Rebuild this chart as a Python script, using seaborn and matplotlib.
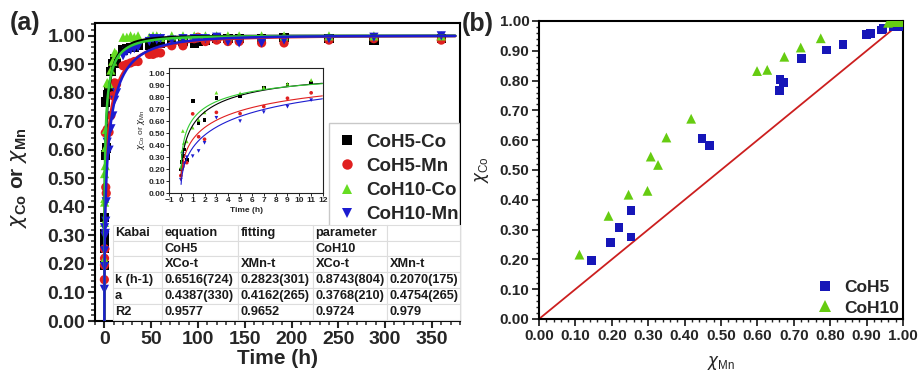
import numpy as np
import pandas as pd
import matplotlib
matplotlib.use("Agg")
import matplotlib.pyplot as plt
import seaborn as sns
from matplotlib.ticker import MultipleLocator, FormatStrFormatter

# ---------------- data ----------------
# early time points (h), shown in main panel and inset
t_short = [0, 0.083, 0.167, 0.25, 0.5, 1, 1.5, 2, 3, 5, 7, 9, 11]
coh5_co_short = [0.196, 0.256, 0.307, 0.363, 0.275, 0.768, 0.582, 0.607, 0.794, 0.804, 0.875, 0.903, 0.920]
coh5_mn_short = [0.145, 0.196, 0.220, 0.253, 0.253, 0.660, 0.469, 0.448, 0.672, 0.662, 0.721, 0.790, 0.835]
coh10_co_short = [0.216, 0.346, 0.517, 0.417, 0.430, 0.545, 0.609, 0.672, 0.836, 0.832, 0.880, 0.911, 0.942]
coh10_mn_short = [0.111, 0.191, 0.327, 0.246, 0.298, 0.307, 0.350, 0.418, 0.627, 0.599, 0.674, 0.719, 0.774]

# later time points (h)
t_long = [13, 20, 24, 28, 32, 36, 48, 52, 56, 60, 72, 84, 96, 100, 108, 120, 132, 144, 168, 192, 240, 288, 360]
coh5_co_long = [0.905, 0.950, 0.955, 0.960, 0.960, 0.965, 0.965, 0.970, 0.975, 0.975, 0.980, 0.980, 0.975,
                0.980, 0.985, 0.990, 0.990, 0.990, 0.990, 0.995, 0.990, 0.985, 0.990]
coh5_mn_long = [0.830, 0.895, 0.900, 0.905, 0.910, 0.910, 0.935, 0.935, 0.940, 0.940, 0.965, 0.965, 0.990,
                0.995, 0.980, 0.985, 0.980, 0.980, 0.975, 0.975, 0.985, 0.990, 0.985]
coh10_co_long = [0.935, 0.995, 0.995, 1.000, 0.995, 1.000, 0.995, 1.000, 1.000, 0.995, 1.000, 1.000, 1.000,
                 0.995, 1.000, 1.000, 1.000, 1.000, 1.000, 1.000, 1.000, 1.000, 1.000]
coh10_mn_long = [0.800, 0.930, 0.945, 0.950, 0.955, 0.960, 0.980, 0.990, 0.985, 0.990, 0.985, 0.990, 0.990,
                 0.990, 0.990, 0.995, 0.980, 0.975, 0.975, 0.985, 0.990, 0.995, 1.000]

series_names = ["CoH5-Co", "CoH5-Mn", "CoH10-Co", "CoH10-Mn"]

# Kabai fitting parameters (table)
k_vals = [0.6516, 0.2823, 0.8743, 0.2070]
k_errs = ["724", "301", "804", "175"]
a_vals = [0.4387, 0.4162, 0.3768, 0.4754]
a_errs = ["330", "265", "210", "265"]
r2_vals = ["0.9577", "0.9652", "0.9724", "0.979"]

# panel (b): chi_Co vs chi_Mn
b_coh5_mn = [0.145, 0.196, 0.220, 0.253, 0.253, 0.448, 0.469, 0.660, 0.662, 0.672, 0.721, 0.790, 0.835,
             0.899, 0.910, 0.941, 0.945, 0.973, 0.991]
b_coh5_co = [0.196, 0.256, 0.307, 0.363, 0.275, 0.607, 0.582, 0.768, 0.804, 0.794, 0.875, 0.903, 0.920,
             0.956, 0.959, 0.970, 0.975, 0.981, 0.981]
b_coh10_mn = [0.111, 0.191, 0.246, 0.298, 0.307, 0.327, 0.350, 0.418, 0.599, 0.627, 0.674, 0.719, 0.774,
              0.959, 0.968, 0.977, 0.986, 0.995]
b_coh10_co = [0.216, 0.346, 0.417, 0.430, 0.545, 0.517, 0.609, 0.672, 0.832, 0.836, 0.880, 0.911, 0.942,
              0.994, 0.997, 0.997, 0.997, 0.997]
diag_x = [0.0, 1.0]
diag_y = [0.0, 1.0]

# ---------------- style ----------------
sns.set_style("ticks")
plt.rcParams["font.family"] = ["Liberation Sans", "DejaVu Sans"]
plt.rcParams["mathtext.fontset"] = "dejavusans"

marker_colors = ["#000000", "#e02020", "#66dd22", "#1c1cd0"]
line_colors = ["#000000", "#e02020", "#33cc33", "#1c1cd0"]
markers = ["s", "o", "^", "v"]

short_vals = [coh5_co_short, coh5_mn_short, coh10_co_short, coh10_mn_short]
long_vals = [coh5_co_long, coh5_mn_long, coh10_co_long, coh10_mn_long]

rows = []
for name, sv, lv in zip(series_names, short_vals, long_vals):
    for t, v in zip(t_short + t_long, sv + lv):
        rows.append({"series": name, "t": t, "x": v})
df = pd.DataFrame(rows)

t_fit = np.concatenate([[0.0], np.geomspace(1e-3, 375, 500)])
fit_rows = []
for name, k, a in zip(series_names, k_vals, a_vals):
    for t in t_fit:
        fit_rows.append({"series": name, "t": t, "x": 1 - np.exp(-(k * t) ** a)})
df_fit = pd.DataFrame(fit_rows)

fig = plt.figure(figsize=(9.2, 3.75), dpi=100)
W, H = 920, 375


def px_axes(x0, y0, x1, y1):
    return fig.add_axes([x0 / W, (H - y1) / H, (x1 - x0) / W, (y1 - y0) / H])


ax = px_axes(95, 23, 460, 321)
axb = px_axes(539, 21, 903, 319)
axi = px_axes(169, 68, 323, 193)

# ---------------- panel (a) main ----------------
for name, c, m in zip(series_names, marker_colors, markers):
    sub = df[df.series == name]
    sns.scatterplot(data=sub, x="t", y="x", ax=ax, color=c, marker=m, s=44,
                    edgecolor="none", linewidth=0, label=name, zorder=3, legend=False)
for name, c in zip(series_names, line_colors):
    sub = df_fit[df_fit.series == name]
    sns.lineplot(data=sub, x="t", y="x", ax=ax, color=c, lw=1.8, estimator=None,
                 sort=False, legend=False, zorder=4)

ax.set_xlim(-10, 380)
ax.set_ylim(0, 1.045)
ax.xaxis.set_major_locator(MultipleLocator(50))
ax.xaxis.set_minor_locator(MultipleLocator(10))
ax.yaxis.set_major_locator(MultipleLocator(0.1))
ax.yaxis.set_minor_locator(MultipleLocator(0.02))
ax.yaxis.set_major_formatter(FormatStrFormatter("%.2f"))
ax.tick_params(which="major", direction="out", length=5, width=1.5, labelsize=14, pad=2,
               top=False, right=False)
ax.tick_params(which="minor", direction="out", length=3, width=1.1, top=False, right=False)
for lab in ax.get_xticklabels() + ax.get_yticklabels():
    lab.set_fontweight("bold")
for sp in ax.spines.values():
    sp.set_visible(True)
    sp.set_linewidth(1.5)
    sp.set_color("black")
ax.set_xlabel("Time (h)", fontsize=15, fontweight="bold", labelpad=1)
ax.set_ylabel(r"$\chi_{\mathregular{Co}}$ or $\chi_{\mathregular{Mn}}$", fontsize=15, fontweight="bold")
ax.yaxis.set_label_coords(-0.18, 0.48)

handles = [plt.Line2D([], [], ls="none", marker=m, color=c, markersize=7.5, markeredgewidth=0)
           for m, c in zip(markers, marker_colors)]
leg = ax.legend(handles, series_names, loc="upper left", bbox_to_anchor=(0.641, 0.664),
                borderaxespad=0, frameon=True, fancybox=False, edgecolor="#bbbbbb",
                prop={"size": 13.5, "weight": "bold"}, handlelength=0.8, handletextpad=0.65,
                labelspacing=0.38, borderpad=0.55)
leg.get_frame().set_linewidth(1.0)
leg.set_zorder(5)
for art in leg.findobj():
    art.set_clip_path(ax.patch)

# table
cell_text = [["Kabai", "equation", "fitting", "parameter", ""],
             ["", "CoH5", "", "CoH10", ""],
             ["", "XCo-t", "XMn-t", "XCo-t", "XMn-t"],
             ["k (h-1)"] + [f"{k:.4f}({e})" for k, e in zip(k_vals, k_errs)],
             ["a"] + [f"{a:.4f}({e})" for a, e in zip(a_vals, a_errs)],
             ["R2"] + r2_vals]
col_px = [49, 76, 75, 74, 73]
tot = sum(col_px)
tbl = ax.table(cellText=cell_text, cellLoc="left",
               colWidths=[c / tot for c in col_px],
               bbox=[(113 - 95) / 365, 0.004, 347 / 365, (320 - 225) / 298])
tbl.auto_set_font_size(False)
tbl.set_fontsize(9.2)
tbl.set_zorder(6)
for (r, c), cell in tbl.get_celld().items():
    cell.set_edgecolor("#dddddd")
    cell.set_linewidth(0.8)
    cell.set_facecolor("white")
    cell.PAD = 0.035
    cell.get_text().set_fontweight("bold")
    cell.get_text().set_color("#1a1a1a")

fig.text(10 / W, 1 - 23 / H, "(a)", fontsize=18, fontweight="bold", va="center", ha="left")

# ---------------- inset ----------------
in_rows = df[df.t <= 12]
for name, c, m in zip(series_names, marker_colors, markers):
    sub = in_rows[in_rows.series == name]
    sns.scatterplot(data=sub, x="t", y="x", ax=axi, color=c, marker=m, s=7,
                    edgecolor="none", linewidth=0, zorder=3, legend=False)
for name, c in zip(series_names, line_colors):
    sub = df_fit[(df_fit.series == name) & (df_fit.t <= 12) & (df_fit.t >= 0.02)]
    sns.lineplot(data=sub, x="t", y="x", ax=axi, color=c, lw=0.8, estimator=None,
                 sort=False, legend=False, zorder=4)
axi.set_xlim(-1, 12)
axi.set_ylim(0, 1.042)
axi.xaxis.set_major_locator(MultipleLocator(1))
axi.yaxis.set_major_locator(MultipleLocator(0.1))
axi.yaxis.set_major_formatter(FormatStrFormatter("%.2f"))
axi.tick_params(which="major", direction="out", length=2, width=0.7, labelsize=6, pad=1,
                top=False, right=False)
for lab in axi.get_xticklabels() + axi.get_yticklabels():
    lab.set_fontweight("bold")
for sp in axi.spines.values():
    sp.set_visible(True)
    sp.set_linewidth(0.8)
    sp.set_color("#222222")
axi.set_xlabel("Time (h)", fontsize=6, fontweight="bold", labelpad=2)
axi.set_ylabel(r"$\chi_{\mathregular{Co}}$ or $\chi_{\mathregular{Mn}}$", fontsize=6, labelpad=1)

# ---------------- panel (b) ----------------
sns.lineplot(x=diag_x, y=diag_y, ax=axb, color="#cc1f1f", lw=1.3, zorder=2)
sns.scatterplot(x=b_coh5_mn, y=b_coh5_co, ax=axb, color="#1616b8", marker="s", s=40,
                edgecolor="none", linewidth=0, zorder=3, label="CoH5")
sns.scatterplot(x=b_coh10_mn, y=b_coh10_co, ax=axb, color="#66cc11", marker="^", s=50,
                edgecolor="none", linewidth=0, zorder=3, label="CoH10")
axb.set_xlim(0, 1)
axb.set_ylim(0, 1)
axb.xaxis.set_major_locator(MultipleLocator(0.1))
axb.xaxis.set_minor_locator(MultipleLocator(0.02))
axb.yaxis.set_major_locator(MultipleLocator(0.1))
axb.yaxis.set_minor_locator(MultipleLocator(0.02))
axb.xaxis.set_major_formatter(FormatStrFormatter("%.2f"))
axb.yaxis.set_major_formatter(FormatStrFormatter("%.2f"))
axb.tick_params(which="major", direction="out", length=5, width=1.3, labelsize=11, pad=2,
                top=False, right=False)
axb.tick_params(which="minor", direction="out", length=2.5, width=1.0, top=False, right=False)
for lab in axb.get_xticklabels() + axb.get_yticklabels():
    lab.set_fontweight("bold")
for sp in axb.spines.values():
    sp.set_visible(True)
    sp.set_linewidth(1.5)
    sp.set_color("black")
axb.set_xlabel(r"$\chi_{\mathregular{Mn}}$", fontsize=12, labelpad=8)
axb.set_ylabel(r"$\chi_{\mathregular{Co}}$", fontsize=12, labelpad=6)
hb = [plt.Line2D([], [], ls="none", marker="s", color="#1616b8", markersize=7, markeredgewidth=0),
      plt.Line2D([], [], ls="none", marker="^", color="#66cc11", markersize=8, markeredgewidth=0)]
axb.legend(hb, ["CoH5", "CoH10"], loc="lower right", frameon=False,
           prop={"size": 12.5, "weight": "bold"}, handlelength=0.8, handletextpad=0.75,
           labelspacing=0.3, borderaxespad=0.0, borderpad=0.2)

fig.text(462 / W, 1 - 24 / H, "(b)", fontsize=18, fontweight="bold", va="center", ha="left")

fig.savefig("out.png", dpi=100)
